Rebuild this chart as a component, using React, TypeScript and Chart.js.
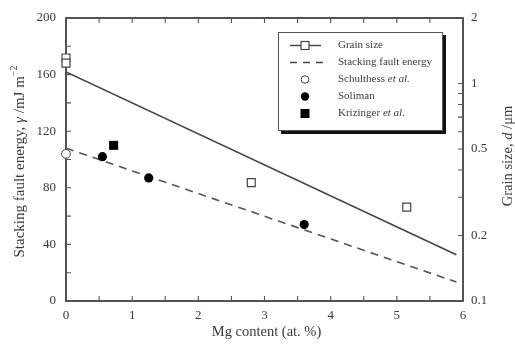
import { useEffect, useRef } from "react";
import { Chart, registerables } from "chart.js";
Chart.register(...registerables);

const FONT = '"Liberation Serif", "Times New Roman", serif';
const INK = "#3a3a3a";

// ---- data ----
const grainX = [0, 0, 2.8, 5.15];
const grainY = [1.31, 1.24, 0.35, 0.27];
const grainFitX = [0, 5.9];
const grainFitY = [1.13, 0.163];
const sfeFitX = [0, 5.9];
const sfeFitY = [108, 13.4];
const schulthessX = [0];
const schulthessY = [104];
const solimanX = [0.55, 1.25, 3.6];
const solimanY = [102, 87, 54];
const krizingerX = [0.72];
const krizingerY = [110];

// ---- ticks ----
const xTickValues = [0, 0.5, 1, 1.5, 2, 2.5, 3, 3.5, 4, 4.5, 5, 5.5, 6];
const xLabelValues = [0, 1, 2, 3, 4, 5, 6];
const leftTickValues = [0, 20, 40, 60, 80, 100, 120, 140, 160, 180, 200];
const leftLabelValues = [0, 40, 80, 120, 160, 200];
const rightTickValues = [0.1, 0.2, 0.3, 0.4, 0.5, 0.6, 0.7, 0.8, 0.9, 1, 2];
const rightLabelValues = [0.1, 0.2, 0.5, 1, 2];

const xTitle = "Mg content (at. %)";
const legendNames = ["Grain size", "Stacking fault energy", "Schulthess", "Soliman", "Krizinger"];

const pts = (xs: number[], ys: number[]) => xs.map((x, i) => ({ x, y: ys[i] }));
const has = (arr: number[], v: number) => arr.some((a) => Math.abs(a - v) < 1e-9);

type Part = { t: string; f: string; dy?: number };
function drawRich(ctx: CanvasRenderingContext2D, parts: Part[], cx: number, cy: number, rotate: boolean, align: "center" | "left" = "center") {
  ctx.save();
  ctx.translate(cx, cy);
  if (rotate) ctx.rotate(-Math.PI / 2);
  ctx.textBaseline = "middle";
  ctx.textAlign = "left";
  let total = 0;
  for (const p of parts) { ctx.font = p.f; total += ctx.measureText(p.t).width; }
  let x = align === "center" ? -total / 2 : 0;
  for (const p of parts) {
    ctx.font = p.f;
    ctx.fillText(p.t, x, p.dy || 0);
    x += ctx.measureText(p.t).width;
  }
  ctx.restore();
}

const framePlugin = {
  id: "frame",
  beforeDatasetsDraw(chart: any) {
    const { ctx, chartArea: a, scales } = chart;
    ctx.save();
    ctx.strokeStyle = "#2a2a2a";
    ctx.lineWidth = 1.6;
    ctx.strokeRect(a.left, a.top, a.right - a.left, a.bottom - a.top);
    ctx.lineWidth = 1.1;
    ctx.strokeStyle = "#555";
    const L = 5;
    ctx.beginPath();
    for (const v of xTickValues) {
      const px = scales.x.getPixelForValue(v);
      ctx.moveTo(px, a.bottom); ctx.lineTo(px, a.bottom - L);
      ctx.moveTo(px, a.top); ctx.lineTo(px, a.top + L);
    }
    for (const v of leftTickValues) {
      const py = scales.y.getPixelForValue(v);
      ctx.moveTo(a.left, py); ctx.lineTo(a.left + L, py);
    }
    for (const v of rightTickValues) {
      const py = scales.y2.getPixelForValue(v);
      ctx.moveTo(a.right, py); ctx.lineTo(a.right - L, py);
    }
    ctx.stroke();
    ctx.restore();
  },
  afterDraw(chart: any) {
    const { ctx, chartArea: a } = chart;
    ctx.save();
    ctx.fillStyle = INK;
    const F = (s: number, it = false) => `${it ? "italic " : ""}${s}px ${FONT}`;
    // axis titles
    drawRich(ctx, [{ t: xTitle, f: F(14.5) }], (a.left + a.right) / 2 + 2, 332, false);
    drawRich(ctx, [
      { t: "Stacking fault energy, ", f: F(15) },
      { t: "γ", f: F(15, true) },
      { t: " /mJ m", f: F(15) },
      { t: "−2", f: F(10), dy: -6 },
    ], 20, (a.top + a.bottom) / 2 + 2, true);
    drawRich(ctx, [
      { t: "Grain size, ", f: F(14.5) },
      { t: "d", f: F(14.5, true) },
      { t: " /μm", f: F(14.5) },
    ], 508, 156, true);

    // legend box with shadow
    const bx = 278, by = 32, bw = 164, bh = 98;
    ctx.fillStyle = "#111";
    ctx.fillRect(bx + 3, by + 3, bw + 1, bh + 1);
    ctx.fillStyle = "#fff";
    ctx.fillRect(bx, by, bw, bh);
    ctx.strokeStyle = "#555";
    ctx.lineWidth = 1;
    ctx.strokeRect(bx + 0.5, by + 0.5, bw, bh);

    const sx = 305, tx = 338;
    const rowY = (i: number) => 45.5 + i * 17;
    // symbols
    ctx.strokeStyle = "#444";
    ctx.lineWidth = 1.4;
    let y = rowY(0);
    ctx.beginPath(); ctx.moveTo(290, y); ctx.lineTo(321, y); ctx.stroke();
    ctx.fillStyle = "#fff"; ctx.fillRect(sx - 4, y - 4, 8, 8); ctx.lineWidth = 1.2; ctx.strokeRect(sx - 4, y - 4, 8, 8);
    y = rowY(1);
    ctx.lineWidth = 1.4; ctx.setLineDash([7, 6]);
    ctx.beginPath(); ctx.moveTo(290, y); ctx.lineTo(323, y); ctx.stroke();
    ctx.setLineDash([]);
    y = rowY(2);
    ctx.lineWidth = 1; ctx.beginPath(); ctx.arc(sx, y, 3.8, 0, Math.PI * 2); ctx.fillStyle = "#fff"; ctx.fill(); ctx.stroke();
    y = rowY(3);
    ctx.fillStyle = "#000"; ctx.beginPath(); ctx.arc(sx, y, 4.2, 0, Math.PI * 2); ctx.fill();
    y = rowY(4);
    ctx.fillRect(sx - 4.5, y - 4.5, 9, 9);

    // texts
    ctx.fillStyle = INK;
    drawRich(ctx, [{ t: legendNames[0], f: F(11) }], tx, rowY(0), false, "left");
    drawRich(ctx, [{ t: legendNames[1], f: F(11) }], tx, rowY(1), false, "left");
    drawRich(ctx, [{ t: legendNames[2] + " ", f: F(11) }, { t: "et al.", f: F(11, true) }], tx, rowY(2), false, "left");
    drawRich(ctx, [{ t: legendNames[3], f: F(11) }], tx, rowY(3), false, "left");
    drawRich(ctx, [{ t: legendNames[4] + " ", f: F(11) }, { t: "et al.", f: F(11, true) }], tx, rowY(4), false, "left");
    ctx.restore();
  },
};

export default function App() {
  const ref = useRef<HTMLCanvasElement>(null);
  useEffect(() => {
    if (!ref.current) return;
    const tickFont = { family: FONT, size: 13 };
    const chart = new Chart(ref.current, {
      type: "scatter",
      data: {
        datasets: [
          {
            label: "Soliman", data: pts(solimanX, solimanY), yAxisID: "y",
            pointStyle: "circle", pointRadius: 4.6, backgroundColor: "#000", borderColor: "#000", borderWidth: 0, clip: false,
          } as any,
          {
            label: "Krizinger et al.", data: pts(krizingerX, krizingerY), yAxisID: "y",
            pointStyle: "rect", pointRadius: 6.4, backgroundColor: "#000", borderColor: "#000", borderWidth: 0, clip: false,
          },
          {
            label: "Schulthess et al.", data: pts(schulthessX, schulthessY), yAxisID: "y",
            pointStyle: "circle", pointRadius: 4.4, backgroundColor: "#fff", borderColor: "#444", borderWidth: 1, clip: false,
          },
          {
            label: "Grain size", data: pts(grainX, grainY), yAxisID: "y2",
            pointStyle: "rect", pointRadius: 5.6, backgroundColor: "#fff", borderColor: "#444", borderWidth: 1.2, clip: false,
          },
          {
            label: "Grain size fit", data: pts(grainFitX, grainFitY), yAxisID: "y2", showLine: true,
            pointRadius: 0, borderColor: "#444", borderWidth: 1.6,
          },
          {
            label: "Stacking fault energy", data: pts(sfeFitX, sfeFitY), yAxisID: "y", showLine: true,
            pointRadius: 0, borderColor: "#555", borderWidth: 1.6, borderDash: [8, 6],
          },
        ],
      },
      options: {
        responsive: false,
        animation: false,
        events: [],
        layout: { padding: { top: 18, left: 0, right: 0, bottom: 0 } },
        plugins: { legend: { display: false }, tooltip: { enabled: false } },
        scales: {
          x: {
            type: "linear", min: 0, max: 6, position: "bottom",
            grid: { display: false, drawTicks: false },
            border: { display: false },
            afterBuildTicks: (s: any) => { s.ticks = xTickValues.map((v) => ({ value: v })); },
            afterFit: (s: any) => { s.height = 45; },
            ticks: {
              autoSkip: false, maxRotation: 0, padding: 7, color: INK, font: tickFont,
              callback: (v: any) => (has(xLabelValues, Number(v)) ? String(v) : ""),
            },
          },
          y: {
            type: "linear", min: 0, max: 200, position: "left",
            grid: { display: false, drawTicks: false },
            border: { display: false },
            afterBuildTicks: (s: any) => { s.ticks = leftTickValues.map((v) => ({ value: v })); },
            afterFit: (s: any) => { s.width = 66; },
            ticks: {
              autoSkip: false, padding: 10, color: INK, font: tickFont,
              callback: (v: any) => (has(leftLabelValues, Number(v)) ? String(v) : ""),
            },
          },
          y2: {
            type: "logarithmic", min: 0.1, max: 2, position: "right",
            grid: { display: false, drawTicks: false },
            border: { display: false },
            afterBuildTicks: (s: any) => { s.ticks = rightTickValues.map((v) => ({ value: v })); },
            afterFit: (s: any) => { s.width = 52; },
            ticks: {
              autoSkip: false, padding: 8, color: INK, font: tickFont,
              callback: (v: any) => (has(rightLabelValues, Number(v)) ? String(Number(v)) : ""),
            },
          },
        },
      },
      plugins: [framePlugin],
    } as any);
    return () => chart.destroy();
  }, []);
  return (
    <div style={{ position: "absolute", left: 0, top: 0, width: 515, height: 346, background: "#fff" }}>
      <canvas ref={ref} width={515} height={346} style={{ display: "block" }} />
    </div>
  );
}
